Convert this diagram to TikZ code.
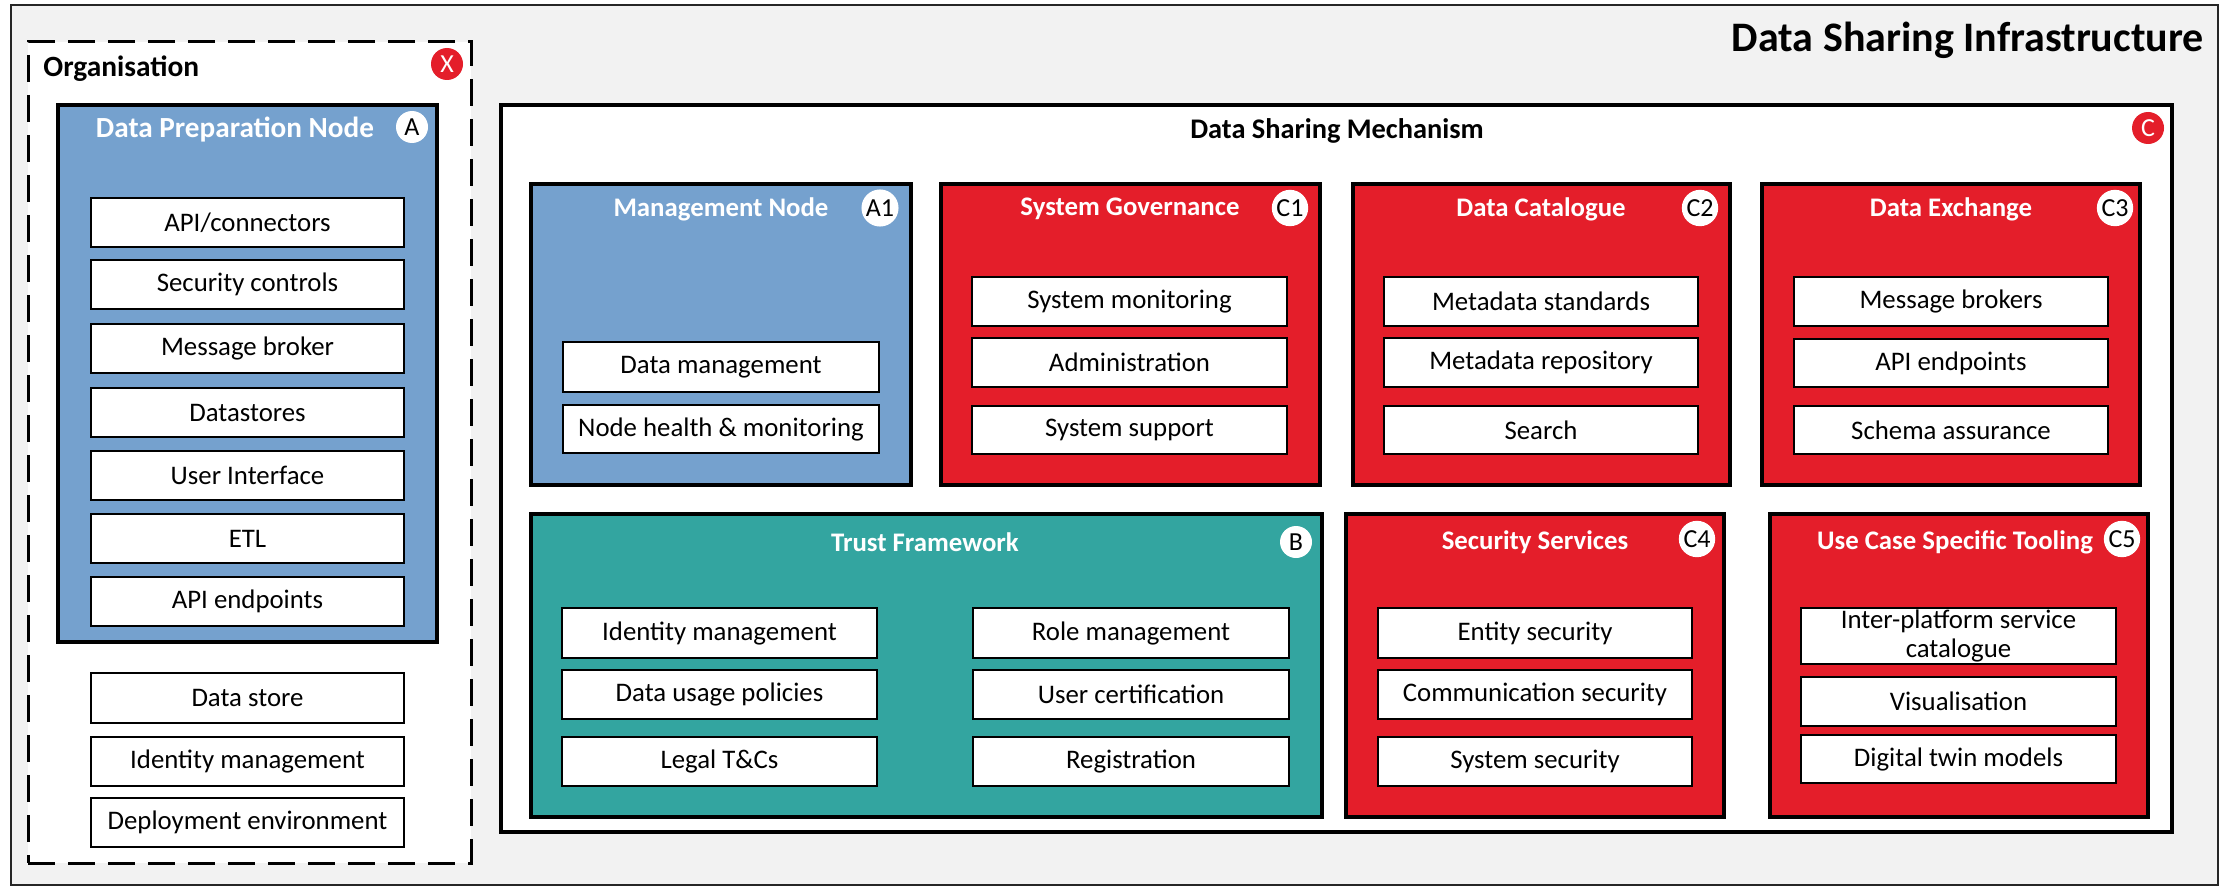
\documentclass[tikz,border=0pt]{standalone}
\usepackage{fontspec}
\setmainfont{Carlito}
\definecolor{bgray}{RGB}{242,242,242}
\definecolor{nblue}{RGB}{117,161,206}
\definecolor{nred}{RGB}{228,30,42}
\definecolor{nteal}{RGB}{51,165,160}
\tikzset{
 itm/.style={draw=black, fill=white, line width=0.75pt, inner sep=0pt, font=\fontsize{13.4}{16}\selectfont, align=center},
 cnt/.style={draw=black, line width=2pt, inner sep=0pt},
 ttl/.style={text=white, font=\bfseries\fontsize{13.4}{16}\selectfont, inner sep=0pt},
 badge/.style={circle, fill=white, inner sep=0.8pt, minimum size=16pt, font=\fontsize{13}{15}\selectfont},
 rbadge/.style={badge, fill=nred, text=white},
}
\newcommand\bx[7]{\node[#1, minimum width={(#5-#3)/2}, minimum height={(#6-#4)/2}] (#2) at ({(#3+#5)/2},{(#4+#6)/2}) {#7};}
\begin{document}
\begin{tikzpicture}[x=0.5pt,y=-0.5pt]
\useasboundingbox (0,0) rectangle (2226,888);
% outer frame
\bx{draw=black!85, fill=bgray, line width=1pt, inner sep=0pt}{infra}{11}{5}{2218}{885}{}
\node[font=\bfseries\fontsize{21}{25}\selectfont, anchor=base east, inner sep=0pt] (infra-t) at (2204,52) {Data Sharing Infrastructure};
% organisation
\bx{draw=black, fill=white, line width=1.5pt, dash pattern=on 13.5pt off 6.5pt, inner sep=0pt}{org}{28}{42}{471}{863}{}
\node[font=\bfseries\fontsize{14.7}{17}\selectfont, anchor=base west, inner sep=0pt] (org-t) at (43,76) {Organisation};
\node[rbadge] (org-b) at (447,64) {X};
% data preparation node
\bx{cnt, fill=nblue}{dpn}{58}{105}{437}{642}{}
\node[ttl, font=\bfseries\fontsize{14.6}{17}\selectfont] (dpn-t) at (235,130) {Data Preparation Node};
\node[badge] (dpn-b) at (412,127) {A};
\bx{itm}{dpn1}{91}{198}{404}{247}{API/connectors}
\bx{itm}{dpn2}{91}{260}{404}{309}{Security controls}
\bx{itm}{dpn3}{91}{324}{404}{373}{Message broker}
\bx{itm}{dpn4}{91}{388}{404}{437}{Datastores}
\bx{itm}{dpn5}{91}{451}{404}{500}{User Interface}
\bx{itm}{dpn6}{91}{514}{404}{563}{ETL}
\bx{itm}{dpn7}{91}{577}{404}{626}{API endpoints}
\bx{itm}{org1}{91}{673}{404}{723}{Data store}
\bx{itm}{org2}{91}{737}{404}{786}{Identity management}
\bx{itm}{org3}{91}{798}{404}{847}{Deployment environment}
% data sharing mechanism
\bx{cnt, fill=white}{dsm}{501}{105}{2172}{832}{}
\node[font=\bfseries\fontsize{14.2}{17}\selectfont, inner sep=0pt] (dsm-t) at (1337,131) {Data Sharing Mechanism};
\node[rbadge] (dsm-b) at (2148,128) {C};
% management node
\bx{cnt, fill=nblue}{mn}{531}{184}{911}{485}{}
\node[ttl] (mn-t) at (721,209) {Management Node};
\node[badge] (mn-b) at (880,208) {A1};
\bx{itm}{mn1}{563}{342}{879}{392}{Data management}
\bx{itm}{mn2}{563}{405}{879}{453}{Node health \& monitoring}
% system governance
\bx{cnt, fill=nred}{sg}{941}{184}{1320}{485}{}
\node[ttl] (sg-t) at (1130,209) {System Governance};
\node[badge] (sg-b) at (1290,208) {C1};
\bx{itm}{sg1}{972}{277}{1287}{326}{System monitoring}
\bx{itm}{sg2}{972}{338}{1287}{387}{Administration}
\bx{itm}{sg3}{972}{406}{1287}{454}{System support}
% data catalogue
\bx{cnt, fill=nred}{dc}{1353}{184}{1730}{485}{}
\node[ttl] (dc-t) at (1541,209) {Data Catalogue};
\node[badge] (dc-b) at (1700,208) {C2};
\bx{itm}{dc1}{1384}{277}{1698}{326}{Metadata standards}
\bx{itm}{dc2}{1384}{338}{1698}{387}{Metadata repository}
\bx{itm}{dc3}{1384}{406}{1698}{454}{Search}
% data exchange
\bx{cnt, fill=nred}{de}{1762}{184}{2140}{485}{}
\node[ttl] (de-t) at (1951,209) {Data Exchange};
\node[badge] (de-b) at (2115,208) {C3};
\bx{itm}{de1}{1794}{277}{2108}{326}{Message brokers}
\bx{itm}{de2}{1794}{339}{2108}{387}{API endpoints}
\bx{itm}{de3}{1794}{406}{2108}{454}{Schema assurance}
% trust framework
\bx{cnt, fill=nteal}{tf}{531}{514}{1322}{817}{}
\node[ttl] (tf-t) at (925,542) {Trust Framework};
\node[badge] (tf-b) at (1296,542) {B};
\bx{itm}{tf1}{562}{608}{877}{658}{Identity management}
\bx{itm}{tf2}{562}{670}{877}{719}{Data usage policies}
\bx{itm}{tf3}{562}{737}{877}{786}{Legal T\&Cs}
\bx{itm}{tf4}{973}{608}{1289}{658}{Role management}
\bx{itm}{tf5}{973}{670}{1289}{719}{User certification}
\bx{itm}{tf6}{973}{737}{1289}{786}{Registration}
% security services
\bx{cnt, fill=nred}{ss}{1346}{514}{1724}{817}{}
\node[ttl] (ss-t) at (1535,542) {Security Services};
\node[badge] (ss-b) at (1697,539) {C4};
\bx{itm}{ss1}{1378}{608}{1692}{658}{Entity security}
\bx{itm}{ss2}{1378}{670}{1692}{719}{Communication security}
\bx{itm}{ss3}{1378}{737}{1692}{786}{System security}
% use case specific tooling
\bx{cnt, fill=nred}{uc}{1770}{514}{2148}{817}{}
\node[ttl] (uc-t) at (1955,542) {Use Case Specific Tooling};
\node[badge] (uc-b) at (2122,539) {C5};
\bx{itm, font=\fontsize{13.4}{14.5}\selectfont}{uc1}{1801}{608}{2116}{664}{Inter-platform service\\catalogue}
\bx{itm}{uc2}{1801}{677}{2116}{726}{Visualisation}
\bx{itm}{uc3}{1801}{735}{2116}{783}{Digital twin models}
\end{tikzpicture}
\end{document}
